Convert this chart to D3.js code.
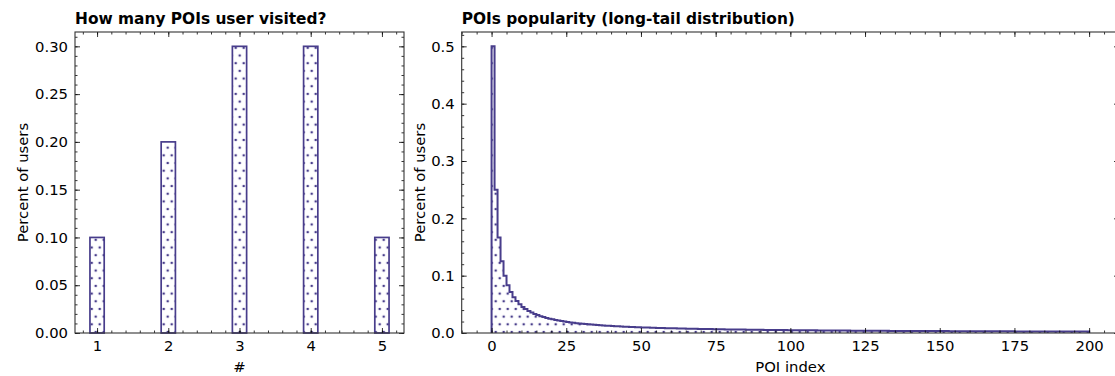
<!DOCTYPE html>
<html>
<head>
<meta charset="utf-8">
<script src="https://cdn.jsdelivr.net/npm/d3@7"></script>
<style>
  body { margin: 0; background: #fff; overflow: hidden; }
  #chart svg { display: block; }
</style>
</head>
<body>
<div id="chart"></div>
<script>

var width = 1115;
var height = 376;

// left chart data
var visitCounts = [1, 2, 3, 4, 5];
var visitShare = [0.1, 0.2, 0.3, 0.3, 0.1];
var visitYTicks = [0, 0.05, 0.10, 0.15, 0.20, 0.25, 0.30];

// right chart data, one value per POI index bin (0..199)
var poiShare = [
  0.5, 0.25, 0.1667, 0.125, 0.1, 0.0833, 0.0714, 0.0625, 0.0556, 0.05,
  0.0455, 0.0417, 0.0385, 0.0357, 0.0333, 0.0313, 0.0294, 0.0278, 0.0263, 0.025,
  0.0238, 0.0227, 0.0217, 0.0208, 0.02, 0.0192, 0.0185, 0.0179, 0.0172, 0.0167,
  0.0161, 0.0156, 0.0152, 0.0147, 0.0143, 0.0139, 0.0135, 0.0132, 0.0128, 0.0125,
  0.0122, 0.0119, 0.0116, 0.0114, 0.0111, 0.0109, 0.0106, 0.0104, 0.0102, 0.01,
  0.0098, 0.0096, 0.0094, 0.0093, 0.0091, 0.0089, 0.0088, 0.0086, 0.0085, 0.0083,
  0.0082, 0.0081, 0.0079, 0.0078, 0.0077, 0.0076, 0.0075, 0.0074, 0.0072, 0.0071,
  0.0070, 0.0069, 0.0068, 0.0068, 0.0067, 0.0066, 0.0065, 0.0064, 0.0063, 0.0063,
  0.0062, 0.0061, 0.0060, 0.0060, 0.0059, 0.0058, 0.0057, 0.0057, 0.0056, 0.0056,
  0.0055, 0.0054, 0.0054, 0.0053, 0.0053, 0.0052, 0.0052, 0.0051, 0.0051, 0.005,
  0.0050, 0.0049, 0.0049, 0.0048, 0.0048, 0.0047, 0.0047, 0.0046, 0.0046, 0.0045,
  0.0045, 0.0045, 0.0044, 0.0044, 0.0043, 0.0043, 0.0043, 0.0042, 0.0042, 0.0042,
  0.0041, 0.0041, 0.0041, 0.0040, 0.0040, 0.0040, 0.0039, 0.0039, 0.0039, 0.0038,
  0.0038, 0.0038, 0.0038, 0.0037, 0.0037, 0.0037, 0.0036, 0.0036, 0.0036, 0.0036,
  0.0035, 0.0035, 0.0035, 0.0035, 0.0034, 0.0034, 0.0034, 0.0034, 0.0034, 0.0033,
  0.0033, 0.0033, 0.0033, 0.0032, 0.0032, 0.0032, 0.0032, 0.0032, 0.0031, 0.0031,
  0.0031, 0.0031, 0.0031, 0.0030, 0.0030, 0.0030, 0.0030, 0.0030, 0.0030, 0.0029,
  0.0029, 0.0029, 0.0029, 0.0029, 0.0029, 0.0028, 0.0028, 0.0028, 0.0028, 0.0028,
  0.0028, 0.0027, 0.0027, 0.0027, 0.0027, 0.0027, 0.0027, 0.0027, 0.0026, 0.0026,
  0.0026, 0.0026, 0.0026, 0.0026, 0.0026, 0.0026, 0.0025, 0.0025, 0.0025, 0.0025
];
var poiXTicks = [0, 25, 50, 75, 100, 125, 150, 175, 200];
var poiYTicks = [0, 0.1, 0.2, 0.3, 0.4, 0.5];

var purple = '#483d8b';
var fontFam = 'DejaVu Sans, sans-serif';
var majorLen = 5;
var minorLen = 2.5;

var top1 = 32, bottom1 = 333;
var left1 = 75, right1 = 404;
var left2 = 461.7, right2 = 1119;

var svg = d3.select('#chart')
    .append('svg')
    .attr('width', width)
    .attr('height', height)
    .style('background-color', '#fff');

// dotted hatch
var defs = svg.append('defs');
var pat = defs.append('pattern')
    .attr('id', 'dots')
    .attr('patternUnits', 'userSpaceOnUse')
    .attr('x', 3.7)
    .attr('y', 1.74)
    .attr('width', 8)
    .attr('height', 15.36);
[[0, 0], [8, 0], [4, 7.68], [0, 15.36], [8, 15.36]].forEach(function(p) {
  pat.append('circle')
    .attr('cx', p[0]).attr('cy', p[1]).attr('r', 1.3)
    .attr('fill', purple);
});

function styleAxis(g, showText) {
  g.select('.domain').remove();
  g.selectAll('.tick line').attr('stroke', '#000').attr('stroke-width', 0.8);
  g.selectAll('.tick text')
    .style('font-family', fontFam)
    .style('font-size', '14.8px')
    .attr('fill', '#000');
  if (!showText) g.selectAll('.tick text').remove();
}

// ticks on all four sides, pointing inwards
function drawFrame(x, y, xMajor, xMinor, yMajor, yMinor, xFmt, yFmt, l, r) {
  var sets = [
    [d3.axisBottom(x).tickValues(xMajor).tickSize(-majorLen).tickPadding(7).tickFormat(xFmt), 'translate(0,' + bottom1 + ')', true],
    [d3.axisBottom(x).tickValues(xMinor).tickSize(-minorLen), 'translate(0,' + bottom1 + ')', false],
    [d3.axisTop(x).tickValues(xMajor).tickSize(-majorLen), 'translate(0,' + top1 + ')', false],
    [d3.axisTop(x).tickValues(xMinor).tickSize(-minorLen), 'translate(0,' + top1 + ')', false],
    [d3.axisLeft(y).tickValues(yMajor).tickSize(-majorLen).tickPadding(7).tickFormat(yFmt), 'translate(' + l + ',0)', true],
    [d3.axisLeft(y).tickValues(yMinor).tickSize(-minorLen), 'translate(' + l + ',0)', false],
    [d3.axisRight(y).tickValues(yMajor).tickSize(-majorLen), 'translate(' + r + ',0)', false],
    [d3.axisRight(y).tickValues(yMinor).tickSize(-minorLen), 'translate(' + r + ',0)', false]
  ];
  sets.forEach(function(s) {
    var g = svg.append('g').attr('transform', s[1]).call(s[0]);
    styleAxis(g, s[2]);
  });

  svg.append('rect')
    .attr('x', l).attr('y', top1)
    .attr('width', r - l).attr('height', bottom1 - top1)
    .attr('fill', 'none')
    .attr('stroke', '#333')
    .attr('stroke-width', 1.1);
}

// ---------- LEFT: how many POIs ----------
var x1 = d3.scaleLinear().domain([0.69, 5.31]).range([left1, right1]);
var y1 = d3.scaleLinear().domain([0, 0.315]).range([bottom1, top1]);

svg.selectAll('.bar')
    .data(visitCounts)
    .enter()
    .append('rect')
    .attr('class', 'bar')
    .attr('x', function(d) { return x1(d - 0.1); })
    .attr('width', function(d) { return x1(d + 0.1) - x1(d - 0.1); })
    .attr('y', function(d, i) { return y1(visitShare[i]); })
    .attr('height', function(d, i) { return y1(0) - y1(visitShare[i]); })
    .attr('fill', 'url(#dots)')
    .attr('stroke', purple)
    .attr('stroke-width', 1.7);

drawFrame(x1, y1,
  visitCounts, d3.range(0.8, 5.21, 0.2),
  visitYTicks, d3.range(0, 0.311, 0.01),
  d3.format('d'), d3.format('.2f'), left1, right1);

svg.append('text')
    .attr('x', left1)
    .attr('y', 23.5)
    .text('How many POIs user visited?')
    .style('font-family', fontFam)
    .style('font-size', '15.4px')
    .style('font-weight', '700');

svg.append('text')
    .attr('x', (left1 + right1) / 2)
    .attr('y', 371.5)
    .attr('text-anchor', 'middle')
    .text('#')
    .style('font-family', fontFam)
    .style('font-size', '14.8px');

svg.append('text')
    .attr('transform', 'translate(28,' + ((top1 + bottom1) / 2) + ') rotate(-90)')
    .attr('text-anchor', 'middle')
    .text('Percent of users')
    .style('font-family', fontFam)
    .style('font-size', '14.8px');

// ---------- RIGHT: POI popularity ----------
var x2 = d3.scaleLinear().domain([-10, 210]).range([left2, right2]);
var y2 = d3.scaleLinear().domain([0, 0.525]).range([bottom1, top1]);

var steps = poiShare.map(function(v, i) { return [i, v]; });
steps.push([poiShare.length, poiShare[poiShare.length - 1]]);

svg.append('path')
    .datum(steps)
    .attr('fill', 'url(#dots)')
    .attr('stroke', 'none')
    .attr('d', d3.area()
      .curve(d3.curveStepAfter)
      .x(function(d) { return x2(d[0]); })
      .y0(y2(0))
      .y1(function(d) { return y2(d[1]); }));

var outline = [[0, 0]].concat(steps).concat([[poiShare.length, 0]]);
svg.append('path')
    .datum(outline)
    .attr('fill', 'none')
    .attr('stroke', purple)
    .attr('stroke-width', 2)
    .attr('d', d3.line()
      .curve(d3.curveStepAfter)
      .x(function(d) { return x2(d[0]); })
      .y(function(d) { return y2(d[1]); }));

drawFrame(x2, y2,
  poiXTicks, d3.range(-10, 210.1, 5),
  poiYTicks, d3.range(0, 0.521, 0.02),
  d3.format('d'), d3.format('.1f'), left2, right2);

svg.append('text')
    .attr('x', left2)
    .attr('y', 23.5)
    .text('POIs popularity (long-tail distribution)')
    .style('font-family', fontFam)
    .style('font-size', '15.4px')
    .style('font-weight', '700');

svg.append('text')
    .attr('x', x2(100))
    .attr('y', 371.5)
    .attr('text-anchor', 'middle')
    .text('POI index')
    .style('font-family', fontFam)
    .style('font-size', '14.8px');

svg.append('text')
    .attr('transform', 'translate(425,' + ((top1 + bottom1) / 2) + ') rotate(-90)')
    .attr('text-anchor', 'middle')
    .text('Percent of users')
    .style('font-family', fontFam)
    .style('font-size', '14.8px');

</script>
</body>
</html>
